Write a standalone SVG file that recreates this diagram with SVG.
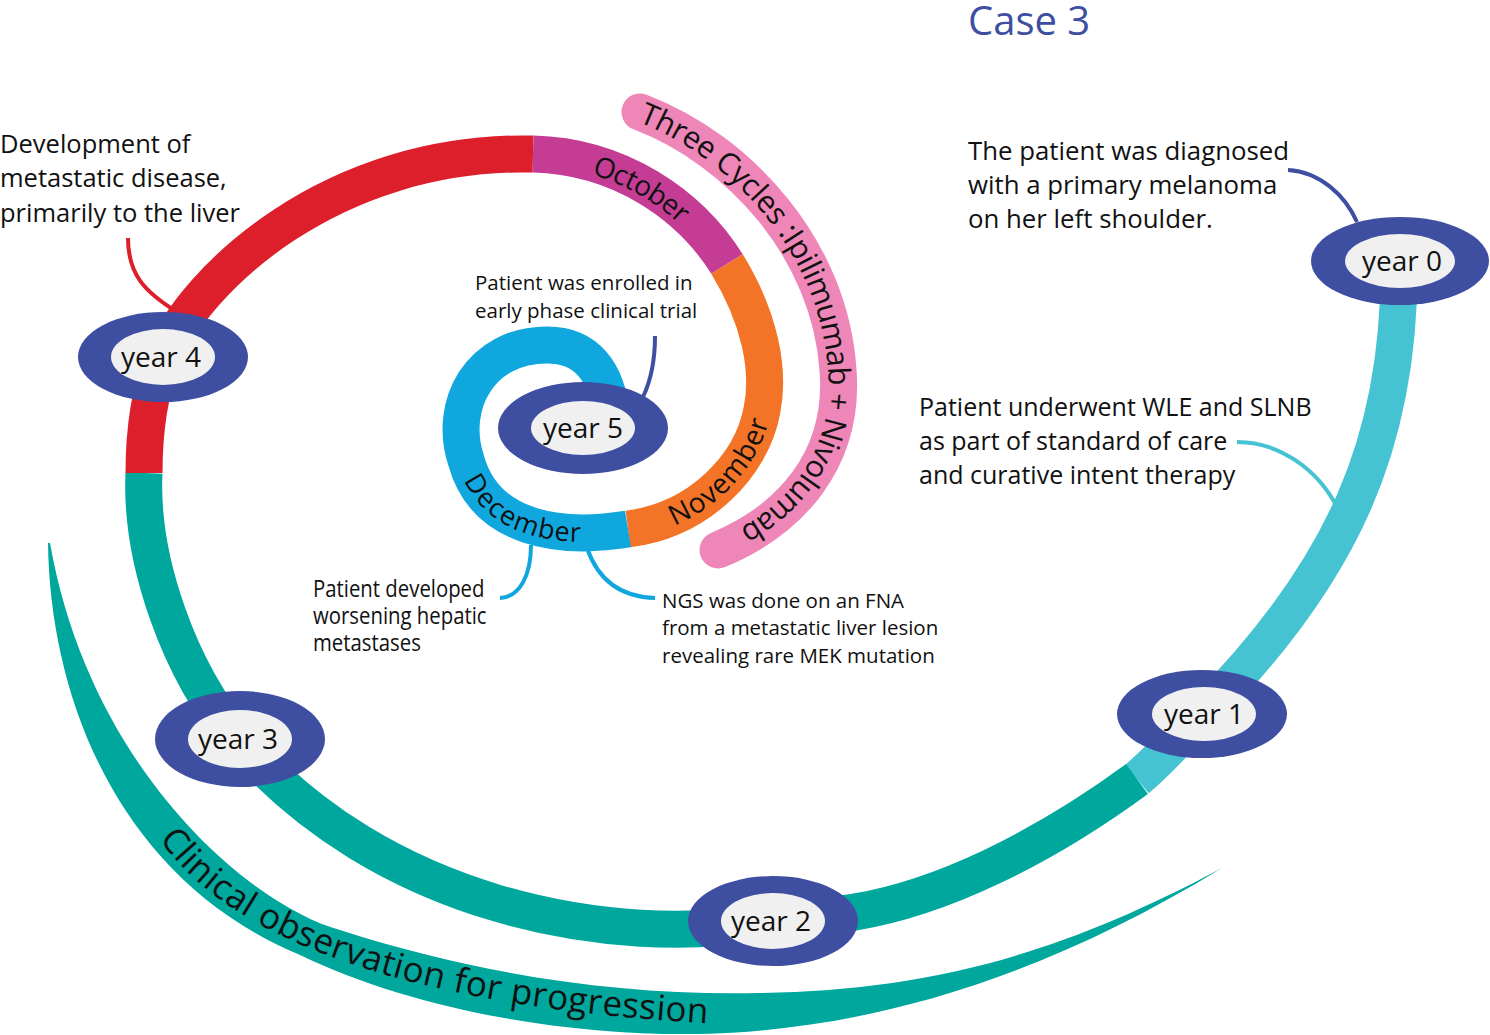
<svg xmlns="http://www.w3.org/2000/svg" width="1490" height="1035" viewBox="0 0 1490 1035">
<style>
.t{font-family:"Open Sans","Noto Sans","Liberation Sans",sans-serif;fill:#111}
.lbl{font-size:25.5px}
.sm{font-size:20.5px}
.band{fill:none;stroke-width:37;stroke-linecap:butt}
.conn{fill:none;stroke-width:4;stroke-linecap:butt}
.yo{fill:#3e4ea1}
.yi{fill:#f0f0f0}
.yt{font-size:28px;text-anchor:middle}
</style>
<defs>
<path id="pinkPath" d="M640,112 C740,150 830,250 838,370 C845,460 790,520 718,550"/>
<path id="octPath" d="M533,154 C620,156 690,205 727,264"/>
<path id="novPath" d="M628,529 C700,520 752,465 762,410 C770,370 760,318 727,264"/>
<path id="decPath" d="M466,460 C485,530 560,540 628,529"/>
<path id="clinPath" d="M156,834 C225,940 410,1008 720,1024"/>
</defs>
<rect width="1490" height="1035" fill="#fff"/>

<g id="title"><text class="t" x="968" y="35" style="font-size:40px;fill:#3e4ea1">Case 3</text></g>

<g id="connectors">
<path class="conn" stroke="#3e4ea1" d="M1288,170 C1320,172 1345,195 1357,222"/>
<path class="conn" stroke="#45c3d3" d="M1237,442 C1280,442 1318,470 1337,507"/>
<path class="conn" stroke="#dc1f2b" d="M128,238 C128,275 145,292 177,312"/>
<path class="conn" stroke="#3e4ea1" d="M655,336 C655,360 652,378 643,397"/>
<path class="conn" stroke="#10a7df" d="M531,545 C531,575 520,597 500,598"/>
<path class="conn" stroke="#10a7df" d="M587,548 C598,580 620,597 655,598"/>
</g>

<g id="observation">
<path fill="#00a79d" d="M48,543 C50,700 120,880 300,955 C410,1008 560,1036 700,1034 C860,1030 1030,985 1222,868 C1050,960 920,990 760,993 C620,996 480,975 340,930 C250,905 90,770 50,543 Z"/>
<text class="t" style="font-size:35px;letter-spacing:0.5px"><textPath href="#clinPath" startOffset="6">Clinical observation for progression</textPath></text>
</g>

<g id="spiral">
<path class="band" stroke="#45c3d3" d="M1399,270 C1399,440 1345,570 1202,714 C1180,736 1160,760 1137,779"/>
<path class="band" stroke="#00a79d" d="M1137,779 C1040,850 940,898 855,912 C828,916 800,918 773,921 C610,950 380,905 239,741 C179,671 140,560 144,473"/>
<path class="band" stroke="#dc1f2b" d="M144,473 C144,430 150,390 163,357 C195,280 330,150 533,154"/>
<path class="band" stroke="#c43c93" d="M533,154 C620,156 690,205 727,264"/>
<path class="band" stroke="#f37327" d="M727,264 C760,318 770,370 762,410 C752,465 700,520 628,529"/>
<path class="band" stroke="#10a7df" d="M628,529 C560,540 485,530 466,460 C448,405 480,345 547,345 C585,345 608,370 612,420"/>
<text class="t" style="font-size:28px"><textPath href="#octPath" startOffset="50%" text-anchor="middle"><tspan dy="11">October</tspan></textPath></text>
<text class="t" style="font-size:28px"><textPath href="#novPath" startOffset="113" text-anchor="middle"><tspan dy="9">November</tspan></textPath></text>
<text class="t" style="font-size:27px"><textPath href="#decPath" startOffset="82" text-anchor="middle"><tspan dy="9">December</tspan></textPath></text>
</g>

<g id="therapy">
<path fill="none" stroke="#ee87b8" stroke-width="37" stroke-linecap="round" d="M640,112 C740,150 830,250 838,370 C845,460 790,520 718,550"/>
<text class="t" style="font-size:30.5px"><textPath href="#pinkPath" startOffset="2"><tspan dy="10">Three Cycles :Ipilimumab + Nivolumab</tspan></textPath></text>
</g>

<g id="year0"><ellipse class="yo" cx="1400" cy="261" rx="89" ry="44"/><ellipse class="yi" cx="1400" cy="261" rx="55" ry="27"/><text class="t yt" x="1402" y="271">year 0</text></g>
<g id="year1"><ellipse class="yo" cx="1202" cy="714" rx="85" ry="44"/><ellipse class="yi" cx="1204" cy="714" rx="52" ry="27"/><text class="t yt" x="1204" y="724">year 1</text></g>
<g id="year2"><ellipse class="yo" cx="773" cy="921" rx="85" ry="45"/><ellipse class="yi" cx="773" cy="921" rx="52" ry="28"/><text class="t yt" x="771" y="931">year 2</text></g>
<g id="year3"><ellipse class="yo" cx="240" cy="739" rx="85" ry="48"/><ellipse class="yi" cx="240" cy="739" rx="52" ry="29"/><text class="t yt" x="238" y="749">year 3</text></g>
<g id="year4"><ellipse class="yo" cx="163" cy="357" rx="85" ry="45"/><ellipse class="yi" cx="163" cy="357" rx="52" ry="28"/><text class="t yt" x="161" y="367">year 4</text></g>
<g id="year5"><ellipse class="yo" cx="583" cy="428" rx="85" ry="46"/><ellipse class="yi" cx="583" cy="428" rx="52" ry="27"/><text class="t yt" x="583" y="438">year 5</text></g>

<g id="note-diagnosis"><text class="t" style="font-size:25.8px"><tspan x="968" y="160">The patient was diagnosed</tspan><tspan x="968" y="194">with a primary melanoma</tspan><tspan x="968" y="228">on her left shoulder.</tspan></text></g>
<g id="note-wle"><text class="t" style="font-size:25px"><tspan x="919" y="416">Patient underwent WLE and SLNB</tspan><tspan x="919" y="450">as part of standard of care</tspan><tspan x="919" y="484">and curative intent therapy</tspan></text></g>
<g id="note-metastatic"><text class="t lbl"><tspan x="0" y="153">Development of</tspan><tspan x="0" y="187">metastatic disease,</tspan><tspan x="0" y="222">primarily to the liver</tspan></text></g>
<g id="note-trial"><text class="t sm"><tspan x="475" y="290">Patient was enrolled in</tspan><tspan x="475" y="318">early phase clinical trial</tspan></text></g>
<g id="note-hepatic"><text class="t" style="font-size:23px" transform="translate(313,0) scale(0.885,1)"><tspan x="0" y="597">Patient developed</tspan><tspan x="0" y="624">worsening hepatic</tspan><tspan x="0" y="651">metastases</tspan></text></g>
<g id="note-ngs"><text class="t sm"><tspan x="662" y="608">NGS was done on an FNA</tspan><tspan x="662" y="635">from a metastatic liver lesion</tspan><tspan x="662" y="663">revealing rare MEK mutation</tspan></text></g>
</svg>
